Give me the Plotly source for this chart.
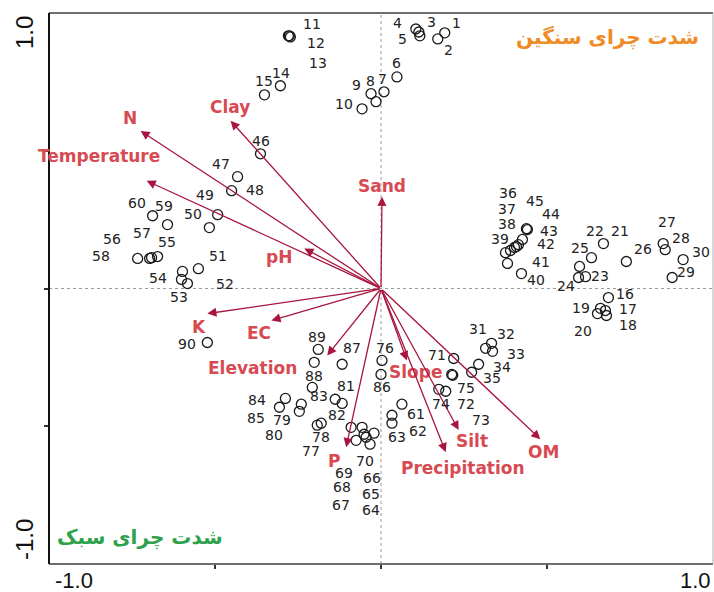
import plotly.graph_objects as go

# Site scores on the first two ordination axes (sites 1-90)
site_ids = list(range(1, 91))
site_x = [
    0.192, 0.171, 0.114, 0.105, 0.117, 0.048, 0.009, -0.015, -0.030, -0.057,
    -0.279, -0.276, -0.273, -0.303, -0.351, 0.685, 0.676, 0.679, 0.661, 0.652,
    0.670, 0.634, 0.616, 0.595, 0.598, 0.739, 0.850, 0.856, 0.877, 0.910,
    0.315, 0.333, 0.336, 0.294, 0.273, 0.402, 0.390, 0.414, 0.375, 0.423,
    0.381, 0.426, 0.438, 0.441, 0.408, -0.363, -0.432, -0.450, -0.517, -0.492,
    -0.550, -0.583, -0.601, -0.598, -0.673, -0.691, -0.697, -0.733, -0.643, -0.688,
    0.063, 0.033, 0.033, -0.033, -0.021, -0.051, -0.075, -0.090, -0.057, -0.045,
    0.219, 0.216, 0.195, 0.174, 0.213, 0.003, -0.192, -0.180, -0.240, -0.246,
    -0.138, -0.117, -0.207, -0.288, -0.306, 0.000, -0.117, -0.201, -0.189, -0.523,
]
site_y = [
    0.928, 0.906, 0.931, 0.942, 0.917, 0.768, 0.714, 0.678, 0.707, 0.652,
    0.917, 0.917, 0.913, 0.736, 0.703, -0.033, -0.080, -0.098, -0.072, -0.091,
    0.163, 0.112, 0.043, 0.040, 0.080, 0.098, 0.163, 0.141, 0.040, 0.105,
    -0.217, -0.199, -0.228, -0.275, -0.304, 0.149, 0.138, 0.159, 0.130, 0.054,
    0.091, 0.178, 0.217, 0.214, 0.152, 0.489, 0.406, 0.355, 0.221, 0.268,
    0.072, 0.018, 0.033, 0.062, 0.116, 0.112, 0.109, 0.109, 0.232, 0.264,
    -0.420, -0.460, -0.489, -0.565, -0.525, -0.529, -0.551, -0.504, -0.504, -0.540,
    -0.254, -0.315, -0.373, -0.366, -0.312, -0.261, -0.496, -0.489, -0.420, -0.446,
    -0.402, -0.417, -0.359, -0.399, -0.431, -0.312, -0.275, -0.268, -0.221, -0.196,
]

# Environmental variable vectors (biplot arrows)
env_names = ["N", "Temperature", "Clay", "pH", "Sand", "K", "EC", "Elevation",
             "P", "Slope", "Silt", "Precipitation", "OM"]
env_x = [-0.724, -0.706, -0.453, -0.231, 0.003, -0.523, -0.330, -0.162,
         -0.105, 0.078, 0.234, 0.195, 0.480]
env_y = [0.572, 0.391, 0.609, 0.145, 0.333, -0.091, -0.116, -0.243,
         -0.576, -0.261, -0.514, -0.594, -0.547]

# Pixel offsets (dx right, dy down) of each site number from its marker
site_label_offset = {
    1: (12, -10), 2: (11, 11), 3: (13, -10), 4: (-18, -6), 5: (-17, 3),
    6: (0, -14), 7: (-1, -13), 8: (-6, -21), 9: (-15, -9), 10: (-18, -5),
    11: (24, -12), 12: (27, 7), 13: (28, 26), 14: (1, -13), 15: (0, -14),
    16: (17, -4), 17: (23, -2), 18: (22, 9), 19: (-19, 0), 20: (-14, 17),
    21: (17, -13), 22: (4, -27), 23: (14, -1), 24: (-13, 9), 25: (0, -18),
    26: (17, -13), 27: (4, -22), 28: (16, -12), 29: (14, -5), 30: (18, -8),
    31: (-8, -19), 32: (14, -9), 33: (23, 3), 34: (23, 3), 35: (20, 6),
    36: (-6, -54), 37: (-3, -41), 38: (-11, -21), 39: (-6, -14), 40: (15, 6),
    41: (34, -1), 42: (24, 5), 43: (23, 2), 44: (24, -16), 45: (19, -46),
    46: (1, -13), 47: (-17, -13), 48: (23, -1), 49: (-4, -33), 50: (-25, -1),
    51: (20, -13), 52: (38, 0), 53: (-2, 18), 54: (-24, 7), 55: (9, -15),
    56: (-40, -19), 57: (-8, -25), 58: (-37, -2), 59: (-4, -19), 60: (-16, -13),
    61: (14, 10), 62: (26, 16), 63: (5, 14), 64: (1, 66), 65: (-3, 61),
    66: (8, 44), 67: (-15, 65), 68: (-9, 60), 69: (-18, 46), 70: (-1, 24),
    71: (-17, -3), 72: (13, 29), 73: (35, 29), 74: (2, 15), 75: (14, 14),
    76: (3, -12), 77: (-6, 26), 78: (0, 14), 79: (-19, 16), 80: (-25, 24),
    81: (11, -13), 82: (-5, 12), 83: (7, 9), 84: (-28, 2), 85: (-23, 11),
    86: (1, 13), 87: (10, -16), 88: (0, 14), 89: (-1, -12), 90: (-20, 1),
}
# Pixel offsets of each variable name from its arrow tip
env_label_offset = {
    "N": (-11, -13), "Temperature": (-48, -25), "Clay": (-1, -14), "pH": (-25, 8),
    "Sand": (0, -11), "K": (-8, 13), "EC": (-12, 13), "Elevation": (-75, 13),
    "P": (-12, 14), "Slope": (9, 12), "Silt": (13, 11), "Precipitation": (17, 16),
    "OM": (3, 13),
}

ARROW_COLOR = "#A8163F"
ENV_TEXT = "#D84A52"
NUM_FONT = dict(family="DejaVu Sans", size=14, color="#222222")

fig = go.Figure()

# dotted zero lines
fig.add_shape(type="line", x0=-1, x1=1, y0=0, y1=0, xref="x", yref="y",
              line=dict(color="#9a9a9a", width=1, dash="dot"), layer="below")
fig.add_shape(type="line", x0=0, x1=0, y0=-1, y1=1, xref="x", yref="y",
              line=dict(color="#9a9a9a", width=1, dash="dot"), layer="below")

fig.add_trace(go.Scatter(
    x=site_x, y=site_y, mode="markers",
    marker=dict(symbol="circle-open", size=10, color="#1a1a1a",
                line=dict(width=1.3, color="#1a1a1a")),
    hoverinfo="text", text=[str(i) for i in site_ids], showlegend=False,
))

annotations = []
# arrows
for name, ex, ey in zip(env_names, env_x, env_y):
    annotations.append(dict(
        x=ex, y=ey, ax=0, ay=0, xref="x", yref="y", axref="x", ayref="y",
        text="", showarrow=True, arrowhead=2, arrowsize=1.4, arrowwidth=1.3,
        arrowcolor=ARROW_COLOR, standoff=0,
    ))
    dx, dy = env_label_offset[name]
    annotations.append(dict(
        x=ex, y=ey, xref="x", yref="y", text=name, showarrow=False,
        xshift=dx, yshift=-dy, xanchor="center", yanchor="middle",
        font=dict(family="DejaVu Sans", size=17, color=ENV_TEXT, weight="bold"),
    ))

# site numbers
for sid, sx, sy in zip(site_ids, site_x, site_y):
    dx, dy = site_label_offset[sid]
    annotations.append(dict(
        x=sx, y=sy, xref="x", yref="y", text=str(sid), showarrow=False,
        xshift=dx, yshift=-dy, xanchor="center", yanchor="middle", font=NUM_FONT,
    ))

# grazing intensity labels
annotations.append(dict(
    x=1, y=1, xref="paper", yref="paper", text="<b>شدت چرای سنگین</b>",
    showarrow=False, xanchor="center", yanchor="middle", xshift=-106, yshift=-24,
    font=dict(family="DejaVu Sans", size=20, color="#F08A24"),
))
annotations.append(dict(
    x=0, y=0, xref="paper", yref="paper", text="<b>شدت چرای سبک</b>",
    showarrow=False, xanchor="center", yanchor="middle", xshift=91, yshift=27,
    font=dict(family="DejaVu Sans", size=20, color="#2EA14C"),
))

# axis end labels
TICK_FONT = dict(family="Liberation Sans", size=22, color="#111111")
annotations += [
    dict(x=0, y=0, xref="paper", yref="paper", text="-1.0", showarrow=False,
         xanchor="center", yanchor="top", xshift=25, yshift=-2, font=TICK_FONT),
    dict(x=1, y=0, xref="paper", yref="paper", text="1.0", showarrow=False,
         xanchor="center", yanchor="top", xshift=-18, yshift=-2, font=TICK_FONT),
    dict(x=0, y=1, xref="paper", yref="paper", text="1.0", showarrow=False,
         xanchor="center", yanchor="middle", xshift=-25, yshift=-20,
         textangle=-90, font=dict(family="Liberation Sans", size=24, color="#111111")),
    dict(x=0, y=0, xref="paper", yref="paper", text="-1.0", showarrow=False,
         xanchor="center", yanchor="middle", xshift=-25, yshift=24,
         textangle=-90, font=dict(family="Liberation Sans", size=24, color="#111111")),
]

# frame
shapes_frame = [
    dict(type="line", xref="paper", yref="paper", x0=0, x1=1, y0=1, y1=1,
         line=dict(color="#6e6e6e", width=2)),
    dict(type="line", xref="paper", yref="paper", x0=0, x1=1, y0=0, y1=0,
         line=dict(color="#6e6e6e", width=2)),
    dict(type="line", xref="paper", yref="paper", x0=1, x1=1, y0=0, y1=1,
         line=dict(color="#b0b0b0", width=1)),
    dict(type="line", xref="paper", yref="paper", x0=0, x1=0, y0=0, y1=1,
         line=dict(color="#111111", width=2)),
]
for s in shapes_frame:
    fig.add_shape(**s)

fig.update_layout(
    width=714, height=592,
    margin=dict(l=49, r=1, t=13, b=28),
    paper_bgcolor="white", plot_bgcolor="white",
    xaxis=dict(range=[-1, 1], showgrid=False, zeroline=False, showticklabels=False,
               tickvals=[-0.5, 0, 0.5], ticks="outside", ticklen=4, tickwidth=1.5,
               tickcolor="#333333", showline=False, fixedrange=True),
    yaxis=dict(range=[-1, 1], showgrid=False, zeroline=False, showticklabels=False,
               tickvals=[-0.5, 0, 0.5], ticks="outside", ticklen=4, tickwidth=1.5,
               tickcolor="#333333", showline=False, fixedrange=True),
    annotations=annotations,
    showlegend=False,
)

fig.write_html("out.html")
